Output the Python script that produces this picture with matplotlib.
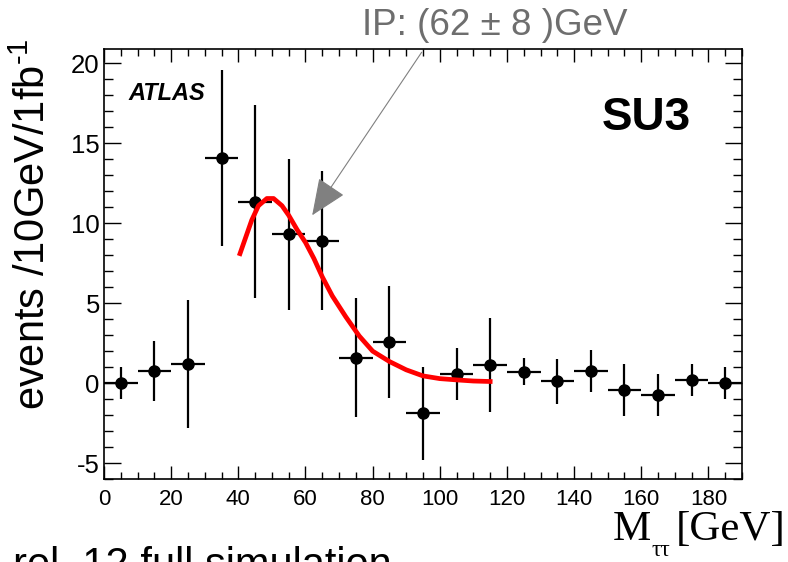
import numpy as np
import matplotlib
matplotlib.use("Agg")
from matplotlib import pyplot as plt
from matplotlib.ticker import MultipleLocator

plt.rcParams['font.family'] = ['Liberation Sans', 'DejaVu Sans']
plt.rcParams['mathtext.fontset'] = 'custom'
plt.rcParams['mathtext.rm'] = 'Liberation Sans'
plt.rcParams['mathtext.default'] = 'regular'
plt.rcParams['axes.unicode_minus'] = False

# di-tau invariant mass, 10 GeV bins
bin_centers = [5, 15, 25, 35, 45, 55, 65, 75, 85, 95,
               105, 115, 125, 135, 145, 155, 165, 175, 185]
bin_half_width = 5
counts = [0.0, 0.75, 1.2, 14.1, 11.35, 9.3, 8.9, 1.6, 2.55, -1.9,
          0.55, 1.15, 0.7, 0.1, 0.75, -0.45, -0.75, 0.2, 0.0]
errors = [1.0, 1.9, 4.0, 5.5, 6.05, 4.7, 4.35, 3.7, 3.5, 2.9,
          1.63, 2.95, 0.85, 1.4, 1.3, 1.63, 1.32, 1.0, 1.0]

# fitted shape over the edge region
fit_x = [40.5, 42.5, 44, 46, 48.5, 50.5, 53, 55, 57.5, 60, 62.5, 65, 68,
         72, 76, 80, 85, 90, 95, 100, 105, 110, 115]
fit_y = [8.1, 9.3, 10.2, 11.1, 11.55, 11.55, 11.1, 10.5, 9.6, 8.8, 7.8, 6.65,
         5.45, 4.15, 2.95, 2.0, 1.35, 0.83, 0.45, 0.28, 0.2, 0.13, 0.1]

endpoint = 62
endpoint_err = 8

fig = plt.figure(figsize=(7.88, 5.62), dpi=100)
ax = fig.add_axes([0.132, 0.1477, 0.8096, 0.765])

ax.errorbar(bin_centers, counts, yerr=errors, xerr=bin_half_width,
            fmt='o', color='black', ms=8, elinewidth=1.6, capsize=0, zorder=3)
ax.plot(fit_x, fit_y, color='red', lw=3.4, zorder=4)

ax.set_xlim(0, 190)
ax.set_ylim(-6, 20.9)
ax.xaxis.set_major_locator(MultipleLocator(20))
ax.xaxis.set_minor_locator(MultipleLocator(5))
ax.yaxis.set_major_locator(MultipleLocator(5))
ax.yaxis.set_minor_locator(MultipleLocator(1))
ax.tick_params(which='both', direction='in', top=True, right=True, width=1.0)
ax.tick_params(axis='x', which='major', length=9.4, labelsize=16, pad=7)
ax.tick_params(axis='x', which='minor', length=4.7)
ax.tick_params(axis='y', which='major', length=12.2, labelsize=18.5, pad=3)
ax.tick_params(axis='y', which='minor', length=6.5)
for s in ax.spines.values():
    s.set_linewidth(1.2)

ax.set_ylabel(r'events /10GeV/1fb$^{\text{-}1}$', fontsize=30)
ax.yaxis.set_label_coords(-0.078, 0.593)

ax.text(0.0376, 0.881, 'ATLAS', transform=ax.transAxes, fontsize=17,
        fontweight='bold', fontstyle='italic')
ax.text(0.78, 0.812, 'SU3', transform=ax.transAxes, fontsize=33,
        fontweight='bold')

# endpoint arrow and label
ax.annotate('', xy=(endpoint, 10.5), xytext=(94.6, 20.7),
            arrowprops=dict(arrowstyle='-|>,head_length=0.4,head_width=0.17',
                            mutation_scale=58, color='#808080', lw=0.8,
                            shrinkA=0, shrinkB=0),
            annotation_clip=False, zorder=5)
fig.text(362 / 788, 1 - 35 / 562, f'IP: ({endpoint} ± {endpoint_err} )GeV',
         fontsize=26.5, color='#6e6e6e', ha='left', va='baseline')

# x-axis title in serif, subscript dropped well below the baseline
fig.text(613 / 788, 1 - 540 / 562, 'M', ha='left', va='baseline',
         fontsize=31, fontfamily='Liberation Serif')
fig.text(652 / 788, 1 - 556 / 562, 'ττ', ha='left', va='baseline',
         fontsize=17, fontfamily='Liberation Serif')
fig.text(786 / 788, 1 - 540 / 562, '[GeV]', ha='right', va='baseline',
         fontsize=31, fontfamily='Liberation Serif')

fig.text(13 / 788, 1 - 577 / 562, 'rel. 12 full simulation', fontsize=30,
         ha='left', va='baseline')

fig.savefig('out.png', dpi=100)
